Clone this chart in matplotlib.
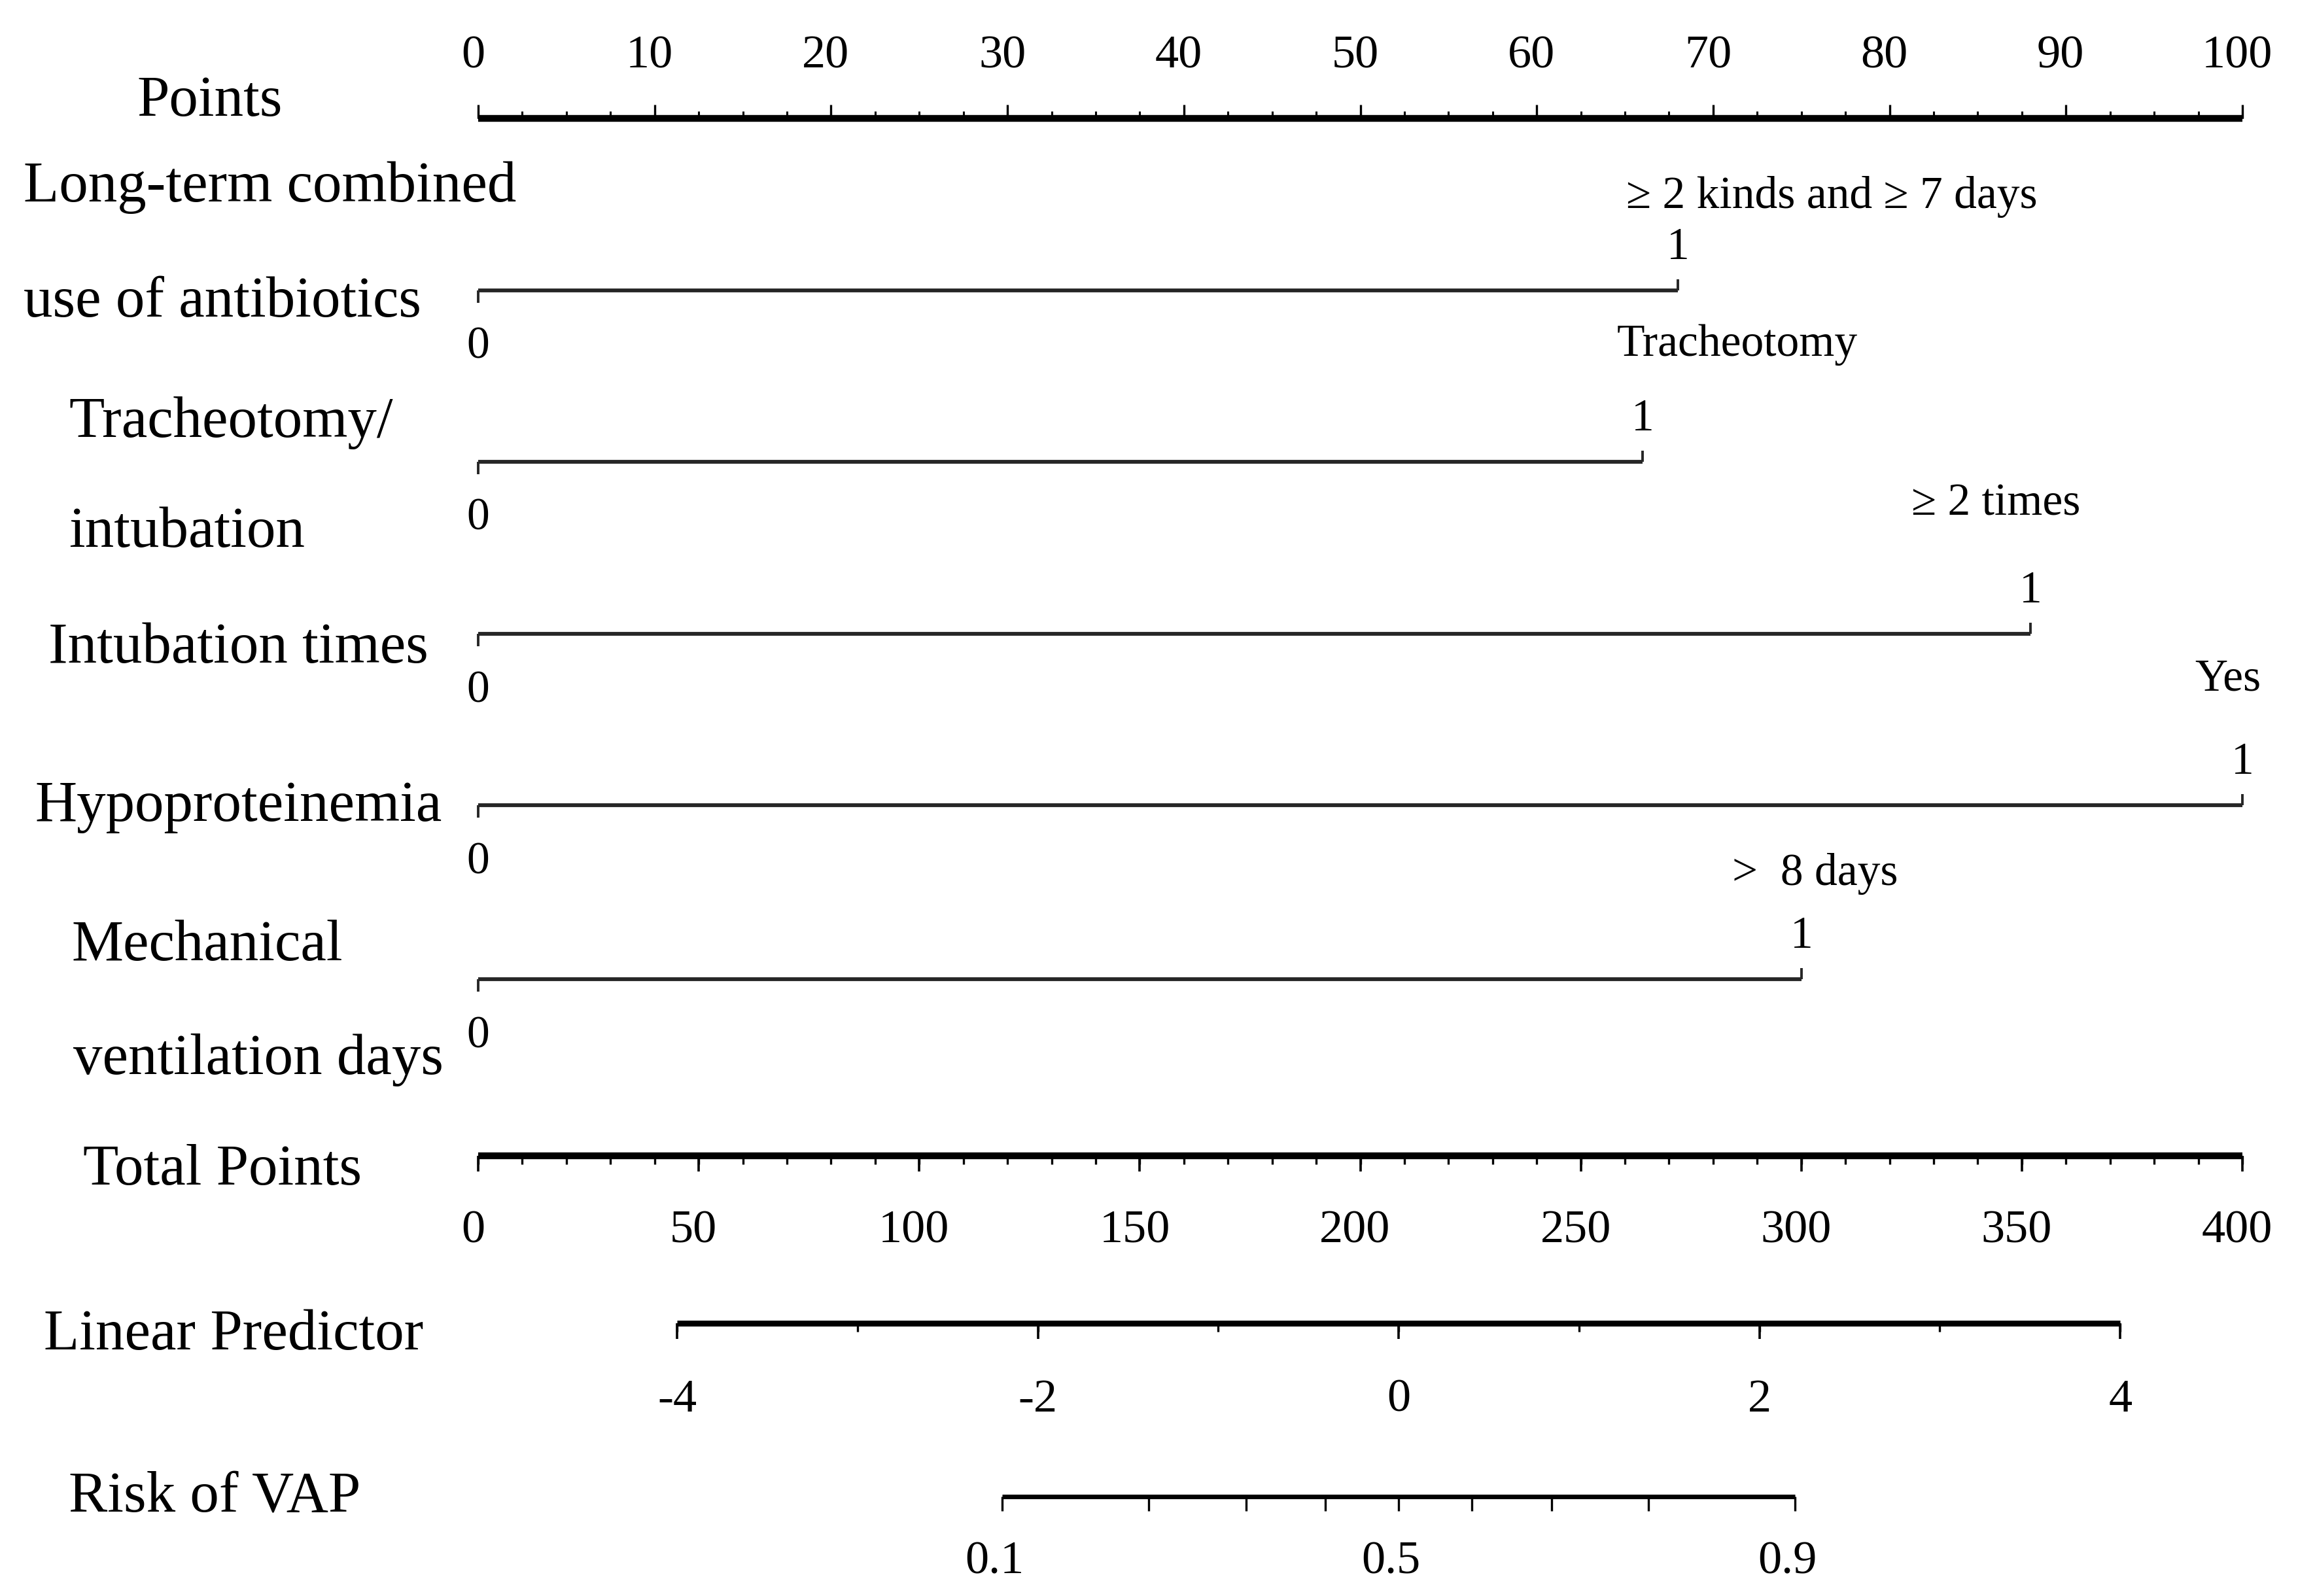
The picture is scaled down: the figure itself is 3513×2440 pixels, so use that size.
import numpy as np
import matplotlib

matplotlib.use("Agg")
import matplotlib.pyplot as plt

# ---- data -----------------------------------------------------------------
POINTS_TICKS = np.arange(0, 101, 10)
POINTS_MINOR = np.arange(0, 101, 2.5)

VAR_NAMES = [
    ["Long-term combined", "use of antibiotics"],
    ["Tracheotomy/", "intubation"],
    ["Intubation times"],
    ["Hypoproteinemia"],
    ["Mechanical", "ventilation days"],
]
LEVEL_POINTS = [68, 66, 88, 100, 75]          # points for level "1" (level "0" = 0)
LEVEL_NAMES = ["\u2265 2 kinds and \u2265 7 days", "Tracheotomy",
               "\u2265 2 times", "Yes", ">  8 days"]

TOTAL_TICKS = np.arange(0, 401, 50)
TOTAL_MINOR = np.arange(0, 401, 10)
TOTAL_MAX = 400

LP_TICKS = [-4, -2, 0, 2, 4]
LP_MINOR = np.arange(-4, 5, 1)
LP_TOTAL_AT_ZERO = 208.7     # total points where linear predictor = 0
LP_TOTAL_PER_UNIT = 40.9     # total points per unit of linear predictor

RISK_TICKS = [0.1, 0.2, 0.3, 0.4, 0.5, 0.6, 0.7, 0.8, 0.9]
RISK_LABELS = [0.1, 0.5, 0.9]

# ---- layout (pixels) ------------------------------------------------------
W, H = 3513, 2440
X0_PX, X100_PX = 731, 3428
PX_PER_PT = (X100_PX - X0_PX) / 100.0

POINTS_Y = 181
VAR_Y = [444, 706, 969, 1231, 1497]
TOTAL_Y = 1767
LP_Y = 2023
RISK_Y = 2288

NAME_POS = {
    "Points": [(209, 177)],
    0: [(36, 308), (36, 484)],
    1: [(105, 668), (105, 836)],
    2: [(74, 1013)],
    3: [(54, 1255)],
    4: [(109, 1468), (112, 1642)],
    "Total Points": [(127, 1811)],
    "Linear Predictor": [(67, 2063)],
    "Risk of VAP": [(105, 2310)],
}
# level-name label: (dx from line end, dy baseline from line) in pixels
LEVEL_OFFS = [(-79, -126), (-39, -162), (-182, -181), (-73, -176), (-106, -144)]

SERIF = ["Liberation Serif", "DejaVu Serif"]
NAME_FS = 64
TICK_FS = 52
LEVEL_FS = 50


def lp_to_points(lp):
    return (LP_TOTAL_AT_ZERO + LP_TOTAL_PER_UNIT * np.asarray(lp)) * 100.0 / TOTAL_MAX


def logit(p):
    p = np.asarray(p)
    return np.log(p / (1 - p))


def dx(px):
    return px / PX_PER_PT


def main():
    fig = plt.figure(figsize=(W / 100, H / 100), dpi=100)
    ax = fig.add_axes([0, 0, 1, 1])
    ax.set_xlim(-X0_PX / PX_PER_PT, (W - X0_PX) / PX_PER_PT)
    ax.set_ylim(H, 0)
    ax.axis("off")

    txt = dict(family=SERIF, color="black")

    # names on the left
    for key, lines in [("Points", ["Points"])] + list(enumerate(VAR_NAMES)) + [
        ("Total Points", ["Total Points"]),
        ("Linear Predictor", ["Linear Predictor"]),
        ("Risk of VAP", ["Risk of VAP"]),
    ]:
        for line, (px, py) in zip(lines, NAME_POS[key]):
            ax.text(dx(px) - X0_PX / PX_PER_PT, py, line, fontsize=NAME_FS,
                    ha="left", va="baseline", **txt)

    # Points scale (ticks upward)
    ax.plot([0, 100], [POINTS_Y, POINTS_Y], color="black", lw=7.5,
            solid_capstyle="butt")
    ax.vlines(POINTS_MINOR, POINTS_Y, POINTS_Y - 11, color="black", lw=2.2)
    ax.vlines(POINTS_TICKS, POINTS_Y, POINTS_Y - 21, color="black", lw=2.4)
    for t in POINTS_TICKS:
        ax.text(t - dx(8), 104, f"{t:g}", fontsize=TICK_FS, ha="center",
                va="baseline", **txt)

    # predictor rows
    for y, pts, lev, (ox, oy) in zip(VAR_Y, LEVEL_POINTS, LEVEL_NAMES, LEVEL_OFFS):
        ax.plot([0, pts], [y, y], color="#262626", lw=4.2, solid_capstyle="butt")
        ax.vlines(0, y, y + 19, color="#262626", lw=2.8)
        ax.vlines(pts, y, y - 17, color="#262626", lw=2.8)
        ax.text(0, y + 104, "0", fontsize=LEVEL_FS, ha="center", va="baseline", **txt)
        ax.text(pts, y - 48, "1", fontsize=LEVEL_FS, ha="center", va="baseline", **txt)
        ax.text(pts + dx(ox), y + oy, lev, fontsize=LEVEL_FS, ha="left",
                va="baseline", **txt)

    # Total points scale (ticks downward)
    tp = lambda v: np.asarray(v) * 100.0 / TOTAL_MAX
    ax.plot([0, 100], [TOTAL_Y, TOTAL_Y], color="black", lw=7.5,
            solid_capstyle="butt")
    ax.vlines(tp(TOTAL_MINOR), TOTAL_Y, TOTAL_Y + 13, color="black", lw=2.4)
    ax.vlines(tp(TOTAL_TICKS), TOTAL_Y, TOTAL_Y + 24, color="black", lw=2.6)
    for t in TOTAL_TICKS:
        ax.text(tp(t) - dx(8), 1900, f"{t:g}", fontsize=TICK_FS, ha="center",
                va="baseline", **txt)

    # Linear predictor
    lp_x = lp_to_points(LP_MINOR)
    ax.plot([lp_x[0], lp_x[-1]], [LP_Y, LP_Y], color="black", lw=6.5,
            solid_capstyle="butt")
    ax.vlines(lp_x, LP_Y, LP_Y + 13, color="black", lw=2.4)
    ax.vlines(lp_to_points(LP_TICKS), LP_Y, LP_Y + 24, color="black", lw=2.6)
    for t in LP_TICKS:
        ax.text(lp_to_points(t), 2158, f"{t:g}", fontsize=TICK_FS, ha="center",
                va="baseline", **txt)

    # Risk of VAP
    rk_x = lp_to_points(logit(RISK_TICKS))
    ax.plot([rk_x[0], rk_x[-1]], [RISK_Y, RISK_Y], color="black", lw=5,
            solid_capstyle="butt")
    ax.vlines(rk_x, RISK_Y, RISK_Y + 22, color="black", lw=2.4)
    for p in RISK_LABELS:
        ax.text(lp_to_points(logit(p)) - dx(12), 2405, f"{p:g}", fontsize=TICK_FS,
                ha="center", va="baseline", **txt)

    fig.savefig("out.png", dpi=100, facecolor="white")
    plt.close(fig)


if __name__ == "__main__":
    main()
